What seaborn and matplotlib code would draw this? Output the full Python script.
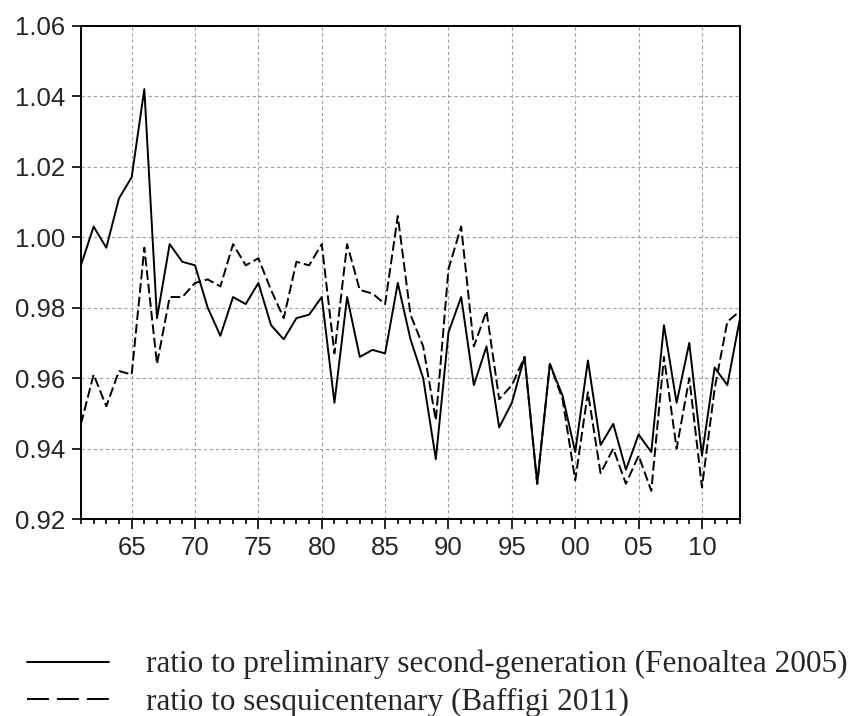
import matplotlib
matplotlib.use("Agg")
import matplotlib.pyplot as plt
from matplotlib.ticker import MultipleLocator, FuncFormatter
from matplotlib.lines import Line2D
import numpy as np
import pandas as pd
import seaborn as sns

years = list(range(1961, 2014))

fenoaltea = [
    0.992, 1.003, 0.997, 1.011, 1.017, 1.042, 0.977, 0.998, 0.993, 0.992,
    0.980, 0.972, 0.983, 0.981, 0.987, 0.975, 0.971, 0.977, 0.978, 0.983,
    0.953, 0.983, 0.966, 0.968, 0.967, 0.987, 0.971, 0.960, 0.937, 0.973,
    0.983, 0.958, 0.969, 0.946, 0.953, 0.966, 0.930, 0.964, 0.955, 0.939,
    0.965, 0.941, 0.947, 0.934, 0.944, 0.939, 0.975, 0.953, 0.970, 0.938,
    0.963, 0.958, 0.977,
]

baffigi = [
    0.947, 0.961, 0.952, 0.962, 0.961, 0.997, 0.964, 0.983, 0.983, 0.987,
    0.988, 0.986, 0.998, 0.992, 0.994, 0.985, 0.977, 0.993, 0.992, 0.998,
    0.967, 0.998, 0.985, 0.984, 0.981, 1.006, 0.978, 0.969, 0.948, 0.991,
    1.003, 0.969, 0.979, 0.954, 0.958, 0.966, 0.930, 0.964, 0.954, 0.931,
    0.956, 0.933, 0.940, 0.930, 0.938, 0.928, 0.966, 0.940, 0.960, 0.929,
    0.957, 0.976, 0.979,
]

label_f = "ratio to preliminary second-generation (Fenoaltea 2005)"
label_b = "ratio to sesquicentenary (Baffigi 2011)"

df = pd.DataFrame({
    "year": years * 2,
    "ratio": fenoaltea + baffigi,
    "series": [label_f] * len(years) + [label_b] * len(years),
})

sns.set_theme(style="white")
plt.rcParams["font.family"] = ["Liberation Sans", "DejaVu Sans"]

fig = plt.figure(figsize=(8.54, 7.16), dpi=100)
ax = fig.add_axes([0.0948, 0.2751, 0.7717, 0.6890])

lw = 1.4
line_dashes = {label_f: "", label_b: (5, 2)}
sns.lineplot(
    data=df, x="year", y="ratio", style="series", dashes=line_dashes,
    color="black", linewidth=lw, legend=False, ax=ax,
)

ax.set_xlim(1961, 2013)
ax.set_ylim(0.92, 1.06)
ax.xaxis.set_major_locator(MultipleLocator(5))
ax.xaxis.set_minor_locator(MultipleLocator(1))
ax.yaxis.set_major_locator(MultipleLocator(0.02))
ax.xaxis.set_major_formatter(FuncFormatter(lambda v, p: f"{int(round(v)) % 100:02d}"))
ax.yaxis.set_major_formatter(FuncFormatter(lambda v, p: f"{v:.2f}"))
ax.set_xlabel("")
ax.set_ylabel("")

ax.grid(True, which="major", color="#a0a0a0", linestyle=(0, (3, 2.5)), linewidth=0.8)
for s in ax.spines.values():
    s.set_color("black")
    s.set_linewidth(1.4)

ax.tick_params(axis="x", which="major", direction="out", length=7.0, width=1.2,
               color="black", labelsize=18.5, pad=5, bottom=True)
ax.tick_params(axis="x", which="minor", direction="out", length=3.3, width=1.2,
               color="black", bottom=True)
ax.tick_params(axis="y", which="major", direction="out", length=6.5, width=1.2,
               color="black", labelsize=18.5, pad=5, left=True)

handles = [
    Line2D([], [], color="black", linewidth=lw),
    Line2D([], [], color="black", linewidth=lw, dashes=(11.3, 4.1)),
]
fig.legend(
    handles, [label_f, label_b], loc="upper left", bbox_to_anchor=(0.0316, 0.0922),
    frameon=False, prop={"family": "Liberation Serif", "size": 22.5},
    handlelength=2.62, handletextpad=1.18, labelspacing=0.28,
    borderaxespad=0, borderpad=0,
)

fig.savefig("out.png", dpi=100, facecolor="white")
